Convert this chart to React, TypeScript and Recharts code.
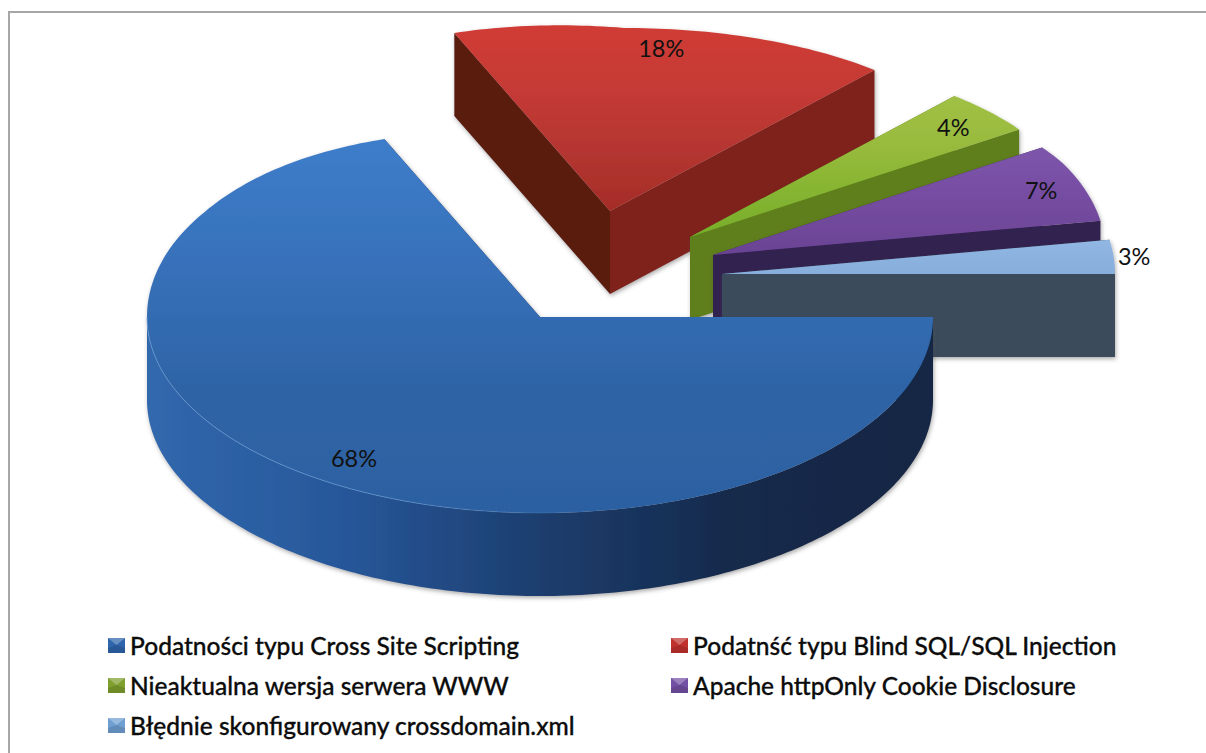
import React from "react";
import { PieChart, Pie, Legend } from "recharts";

// Scan findings by vulnerability class, in legend order.
const CATEGORIES = [
  "Podatności typu Cross Site Scripting",
  "Podatnść typu Blind SQL/SQL Injection",
  "Nieaktualna wersja serwera WWW",
  "Apache httpOnly Cookie Disclosure",
  "Błędnie skonfigurowany crossdomain.xml",
];
const VALUES = [68, 18, 4, 7, 3];

// Legend swatch base colours.
const SWATCHES = ["#2f65ab", "#c0322d", "#7f9f2e", "#7350a3", "#6f9fd2"];

// Slices are painted back to front, so the large front slice goes last.
const PAINT_ORDER = [1, 2, 3, 4, 0];

// Appearance of each slice: top gradient, two cut-face colours, rim gradient, rim highlight.
const SKINS = [
  { top: ["#3e7dca", "#3771ba", "#2e64a6", "#2c61a2"], faceA: "#1b3a66", faceB: "#1b3a66",
    rim: ["#3168ad", "#27579a", "#1c3e6e", "#16294a", "#152744"], edge: "#6ea0d8" },
  { top: ["#d03a34", "#c63a35", "#b53631", "#a42c27"], faceA: "#5a1a11", faceB: "#7f221a",
    rim: ["#7f221a", "#7f221a"], edge: "none" },
  { top: ["#a0c045", "#99bb3d", "#86b532", "#78ad2a"], faceA: "#5b7a1a", faceB: "#5e7e1c",
    rim: ["#5e7e1c", "#5e7e1c"], edge: "none" },
  { top: ["#7c56ab", "#784fa5", "#71499c", "#6a4394"], faceA: "#33204f", faceB: "#33204f",
    rim: ["#33204f", "#33204f"], edge: "none" },
  { top: ["#92b7e3", "#8db3e0", "#8ab0dd", "#88aedb"], faceA: "#3b4b5c", faceB: "#3b4b5c",
    rim: ["#3b4b5c", "#3b4b5c"], edge: "none" },
];

// How far each slice is pulled out of the pie, as [right, down].
const EXPLODE = [[0, 0], [70, -106], [150, -80], [173, -62], [182, -43]];
// Label distance from the slice apex, as a fraction of the radius.
const LABEL_RADIUS = [0.85, 0.9, 0.88, 0.9, 1.05];
// Small sideways correction of each label, in pixels.
const LABEL_SHIFT = [-7, -7, 0, -2, 1];

const WIDTH = 1206;
const HEIGHT = 753;
const CX = 540;
const CY = 317;
const RADIUS = 393;
const RY_BACK = 183;
const RY_FRONT = 196;
const BACK_SHEAR = 15;
const BACK_SHEAR_SLOPE = 5;
const BACK_LEFT_LIFT = 0.175;
const DEPTH = 83;

const FONT = "Lato, 'Open Sans', sans-serif";

const pieData = PAINT_ORDER.map((k) => ({
  name: CATEGORIES[k],
  value: VALUES[k],
  fill: SWATCHES[k],
}));

// Ground-plane angle to screen offset, with a mild perspective on the far half.
function project(deg: number, f = 1): [number, number] {
  const rad = (deg * Math.PI) / 180;
  const c = Math.cos(rad);
  const s = Math.sin(rad);
  if (s > 0) {
    const shear = (BACK_SHEAR + BACK_SHEAR_SLOPE * c) * s * Math.min(1, s / 0.5);
    const x = RADIUS * c + shear;
    const y = -RY_BACK * s * (1 + BACK_LEFT_LIFT * Math.max(0, -c));
    return [x * f, y * f];
  }
  return [RADIUS * c * f, -RY_FRONT * s * f];
}

function sampleAngles(from: number, to: number): number[] {
  const out: number[] = [];
  const sign = to < from ? -1 : 1;
  for (let a = from; sign * (to - a) > 0; a += sign) out.push(a);
  out.push(to);
  return out;
}

const toPath = (pts: [number, number][]) =>
  "M" + pts.map((p) => `${p[0].toFixed(2)},${p[1].toFixed(2)}`).join("L") + "Z";

function Slice3D(props: any) {
  const { cx, cy, startAngle, endAngle, name } = props;
  const k = CATEGORIES.indexOf(name);
  const skin = SKINS[k];
  const [ox, oy] = EXPLODE[k];
  const ax = cx + ox;
  const ay = cy + oy;
  const at = (deg: number): [number, number] => {
    const [x, y] = project(deg);
    return [ax + x, ay + y];
  };
  const down = (p: [number, number]): [number, number] => [p[0], p[1] + DEPTH];

  const arc = sampleAngles(startAngle, endAngle).map(at);
  const apex: [number, number] = [ax, ay];
  const first = at(startAngle);
  const last = at(endAngle);

  const front = sampleAngles(startAngle, endAngle)
    .filter((a) => Math.sin((a * Math.PI) / 180) <= 1e-9)
    .map(at);

  const topId = `slice-top-${k}`;
  const rimId = `slice-rim-${k}`;
  const edgeId = `slice-edge-${k}`;
  const stops = (colors: string[]) =>
    colors.map((c, i) => <stop key={i} offset={i / (colors.length - 1)} stopColor={c} />);

  return (
    <g filter="url(#slice-shadow)">
      <defs>
        <filter id="slice-shadow" x="-10%" y="-10%" width="120%" height="120%">
          <feDropShadow dx="1" dy="2" stdDeviation="2" floodColor="#444" floodOpacity="0.45" />
        </filter>
        <linearGradient id={topId} x1="0" y1="0" x2="0" y2="1">{stops(skin.top)}</linearGradient>
        <linearGradient id={rimId} x1="0" y1="0" x2="1" y2="0">{stops(skin.rim)}</linearGradient>
        {/* The rim highlight catches the light on the left and dies out towards the right. */}
        <linearGradient id={edgeId} x1="1" y1="0" x2="0" y2="0">
          <stop offset="0" stopColor={skin.edge} stopOpacity={0} />
          <stop offset="0.4" stopColor={skin.edge} stopOpacity={0} />
          <stop offset="0.7" stopColor={skin.edge} stopOpacity={0.6} />
          <stop offset="1" stopColor={skin.edge} stopOpacity={0.7} />
        </linearGradient>
      </defs>
      <path d={toPath([apex, first, down(first), down(apex)])} fill={skin.faceA} />
      <path d={toPath([apex, last, down(last), down(apex)])} fill={skin.faceB} />
      {front.length > 1 && (
        <path d={toPath([...front, ...front.map(down).reverse()])} fill={`url(#${rimId})`} />
      )}
      <path d={toPath([apex, ...arc])} fill={`url(#${topId})`} />
      {front.length > 1 && skin.edge !== "none" && (
        <path
          d={"M" + front.map((p) => `${p[0].toFixed(2)},${p[1].toFixed(2)}`).join("L")}
          fill="none"
          stroke={`url(#${edgeId})`}
          strokeWidth={1}
        />
      )}
    </g>
  );
}

function SliceLabel(props: any) {
  const { cx, cy, midAngle, name, value } = props;
  const k = CATEGORIES.indexOf(name);
  const [ox, oy] = EXPLODE[k];
  const [x, y] = project(midAngle, LABEL_RADIUS[k]);
  return (
    <text
      x={cx + ox + x + LABEL_SHIFT[k]}
      y={cy + oy + y}
      textAnchor="middle"
      dominantBaseline="central"
      fontFamily={FONT}
      fontSize={23.5}
      fill="#111"
    >
      {`${value}%`}
    </text>
  );
}

function Swatch({ color }: { color: string }) {
  return (
    <svg width={17} height={15} style={{ flex: "none" }}>
      <rect width={17} height={15} fill={color} />
      <path d="M0,0H17L8.5,7Z" fill="#fff" fillOpacity={0.28} />
      <path d="M0,15H17V10L8.5,7L0,10Z" fill="#000" fillOpacity={0.12} />
    </svg>
  );
}

// Two-column legend, filled row by row in category order.
function LegendGrid() {
  return (
    <div style={{ display: "grid", gridTemplateColumns: "563px 1fr", gridAutoRows: "40px" }}>
      {CATEGORIES.map((name, i) => (
        <div key={name} style={{ display: "flex", alignItems: "center", gap: 5 }}>
          <Swatch color={SWATCHES[i]} />
          <span
            style={{
              fontFamily: FONT,
              fontSize: 24.5,
              fontWeight: 500,
              color: "#0c0c0c",
              whiteSpace: "nowrap",
              WebkitTextStroke: "0.3px #0c0c0c",
            }}
          >
            {name}
          </span>
        </div>
      ))}
    </div>
  );
}

export default function App() {
  return (
    <div style={{ position: "absolute", left: 0, top: 0, width: WIDTH, height: HEIGHT, background: "#fff", overflow: "hidden" }}>
      <div
        style={{
          position: "absolute",
          left: 8,
          top: 11,
          right: 0,
          bottom: 0,
          borderTop: "2px solid #a6a6a6",
          borderLeft: "2px solid #a6a6a6",
        }}
      />
      <div style={{ position: "absolute", left: 0, top: 0 }}>
        <PieChart width={WIDTH} height={HEIGHT} margin={{ top: 0, right: 0, bottom: 0, left: 0 }}>
          <Pie
            data={pieData}
            dataKey="value"
            nameKey="name"
            cx={CX}
            cy={CY}
            innerRadius={0}
            outerRadius={RADIUS}
            startAngle={115.2}
            endAngle={-244.8}
            paddingAngle={0}
            stroke="none"
            isAnimationActive={false}
            shape={Slice3D}
            activeShape={Slice3D}
            inactiveShape={Slice3D}
            label={SliceLabel}
            labelLine={false}
          />
          <Legend
            content={LegendGrid}
            layout="horizontal"
            verticalAlign="middle"
            align="center"
            wrapperStyle={{ left: 108, top: 625, width: 1040 }}
          />
        </PieChart>
      </div>
    </div>
  );
}
